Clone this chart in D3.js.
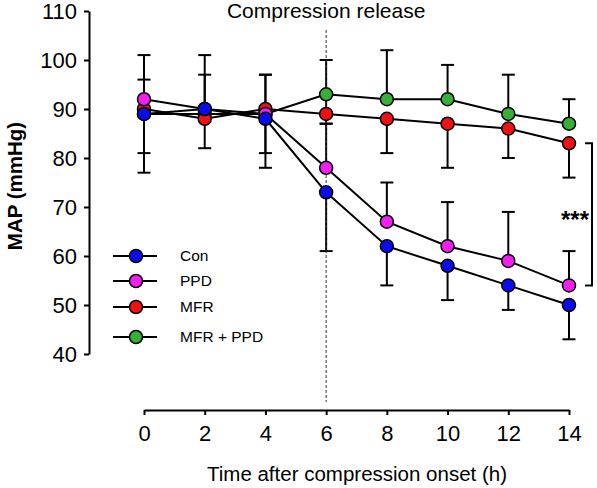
<!DOCTYPE html>
<html>
<head>
<meta charset="utf-8">
<script src="https://cdn.jsdelivr.net/npm/d3@7"></script>
<style>
  html, body { margin: 0; padding: 0; background: #fff; }
  svg { display: block; font-family: "Liberation Sans", Arial, Helvetica, sans-serif; }
</style>
</head>
<body>
<script>
// ---- data ----
const times = [0, 2, 4, 6, 8, 10, 12, 14];
const seriesNames = ["Con", "PPD", "MFR", "MFR + PPD"];
const seriesColors = ["#0b0bef", "#f21ef2", "#f01212", "#36b036"];
const conValues    = [89, 90, 88, 73, 62, 58, 54, 50];
const ppdValues    = [92, 90, 89, 78, 67, 62, 59, 54];
const mfrValues    = [90, 88, 90, 89, 88, 87, 86, 83];
const mfrPpdValues = [89, 89, 89, 93, 92, 92, 89, 87];
// error bar extents (0 = not drawn)
const conErrUp      = [12, 11, 9, 0, 0, 0, 0, 0];
const conErrDown    = [12, 8, 10, 12, 8, 7, 5, 7];
const ppdErrUp      = [0, 0, 8, 9, 8, 9, 10, 7];
const ppdErrDown    = [0, 0, 8, 0, 0, 0, 0, 0];
const mfrErrUp      = [0, 9, 0, 0, 0, 0, 0, 0];
const mfrErrDown    = [0, 0, 0, 0, 7, 9, 6, 7];
const mfrPpdErrUp   = [7, 0, 0, 7, 10, 7, 8, 5];
const mfrPpdErrDown = [8, 0, 0, 6, 0, 0, 0, 0];
const yTicks = [40, 50, 60, 70, 80, 90, 100, 110];
const xTicks = [0, 2, 4, 6, 8, 10, 12, 14];
const titleText = "Compression release";
const xLabel = "Time after compression onset (h)";
const yLabel = "MAP (mmHg)";
const releaseTime = 6;
const sigText = "***";

const series = [
  { name: seriesNames[0], color: seriesColors[0], values: conValues,    up: conErrUp,    down: conErrDown },
  { name: seriesNames[1], color: seriesColors[1], values: ppdValues,    up: ppdErrUp,    down: ppdErrDown },
  { name: seriesNames[2], color: seriesColors[2], values: mfrValues,    up: mfrErrUp,    down: mfrErrDown },
  { name: seriesNames[3], color: seriesColors[3], values: mfrPpdValues, up: mfrPpdErrUp, down: mfrPpdErrDown }
];

// ---- layout ----
const W = 597, H = 488;
const x = d3.scaleLinear().domain([0, 14]).range([144, 569]);
const y = d3.scaleLinear().domain([40, 110]).range([354, 11]);

const svg = d3.select("body").append("svg").attr("width", W).attr("height", H);

// axes
const yAxis = svg.append("g").attr("transform", `translate(89,0)`)
  .call(d3.axisLeft(y).tickValues(yTicks).tickSize(5).tickSizeOuter(0).tickPadding(7).tickFormat(d3.format("d")));
const xAxis = svg.append("g").attr("transform", `translate(0,410)`)
  .call(d3.axisBottom(x).tickValues(xTicks).tickSize(5).tickSizeOuter(0).tickPadding(10).tickFormat(d3.format("d")));
[yAxis, xAxis].forEach(g => {
  g.selectAll("path, line").attr("stroke", "#000").attr("stroke-width", 2);
  g.selectAll("text").attr("font-size", 22).attr("fill", "#000")
    .attr("font-family", '"Liberation Sans", Arial, sans-serif');
});

// title & labels
svg.append("text").attr("x", x(releaseTime)).attr("y", 18).attr("text-anchor", "middle")
  .attr("font-size", 21).text(titleText);
svg.append("text").attr("x", 357).attr("y", 481).attr("text-anchor", "middle")
  .attr("font-size", 20.5).text(xLabel);
svg.append("text").attr("transform", "translate(22,186) rotate(-90)").attr("text-anchor", "middle")
  .attr("font-size", 20.5).attr("font-weight", "bold").text(yLabel);

// error bars
const capHalf = 6.5;
const errG = svg.append("g").attr("stroke", "#000").attr("stroke-width", 2);
series.forEach(s => {
  s.values.forEach((v, i) => {
    const cx = x(times[i]);
    [[s.up[i], 1], [s.down[i], -1]].forEach(([e, sign]) => {
      if (!e) return;
      const yEnd = y(v + sign * e);
      errG.append("line").attr("x1", cx).attr("x2", cx).attr("y1", y(v)).attr("y2", yEnd);
      errG.append("line").attr("x1", cx - capHalf).attr("x2", cx + capHalf).attr("y1", yEnd).attr("y2", yEnd);
    });
  });
});

// lines
const line = d3.line().x((d, i) => x(times[i])).y(d => y(d));
const drawOrder = [3, 2, 1, 0];
drawOrder.forEach(k => {
  const s = series[k];
  svg.append("path").datum(s.values).attr("d", line)
    .attr("fill", "none").attr("stroke", "#000").attr("stroke-width", 2);
});

// release dashed line
svg.append("line").attr("x1", x(releaseTime)).attr("x2", x(releaseTime))
  .attr("y1", 30).attr("y2", 402)
  .attr("stroke", "#333").attr("stroke-width", 1).attr("stroke-dasharray", "3,2");

// markers
drawOrder.forEach(k => {
  const s = series[k];
  svg.append("g").selectAll("circle").data(s.values).join("circle")
    .attr("cx", (d, i) => x(times[i])).attr("cy", d => y(d)).attr("r", 6.5)
    .attr("fill", s.color).attr("stroke", "#000").attr("stroke-width", 1.5);
});

// legend
const legendY = [256, 281, 307, 337];
series.forEach((s, i) => {
  const g = svg.append("g").attr("transform", `translate(0,${legendY[i]})`);
  g.append("line").attr("x1", 113).attr("x2", 157).attr("y1", 0).attr("y2", 0)
    .attr("stroke", "#000").attr("stroke-width", 2);
  g.append("circle").attr("cx", 136).attr("cy", 0).attr("r", 6.5)
    .attr("fill", s.color).attr("stroke", "#000").attr("stroke-width", 1.5);
  g.append("text").attr("x", 180).attr("y", 0).attr("dy", "0.35em")
    .attr("font-size", 15.5).text(s.name);
});

// significance bracket
const yTop = y(mfrValues[7]), yBot = y(ppdValues[7]);
svg.append("path")
  .attr("d", `M585,${yTop}H592V${yBot}H585`)
  .attr("fill", "none").attr("stroke", "#000").attr("stroke-width", 2);
svg.append("text").attr("x", 575).attr("y", (yTop + yBot) / 2 + 14).attr("text-anchor", "middle")
  .attr("font-size", 24).attr("font-weight", "bold").text(sigText);
</script>
</body>
</html>
